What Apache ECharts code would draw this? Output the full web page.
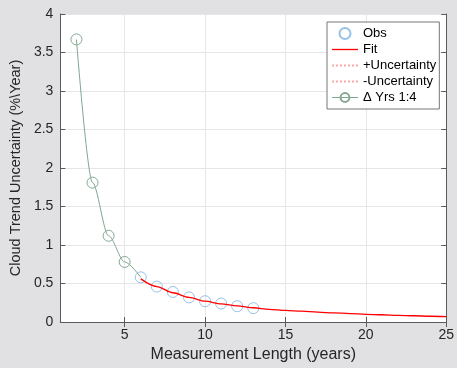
<!DOCTYPE html>
<html>
<head>
<meta charset="utf-8">
<script src="https://cdn.jsdelivr.net/npm/echarts@6/dist/echarts.min.js"></script>
<style>
  html, body { margin: 0; padding: 0; background: #e1e1e3; }
  #chart1 { width: 457px; height: 368px; }
</style>
</head>
<body>
<div id="chart1"></div>
<script>
var dom = document.getElementById("chart1");
var myChart = echarts.init(dom);

// observed uncertainties (blue circles)
var obsX = [6, 7, 8, 9, 10, 11, 12, 13];
var obsY = [0.58, 0.46, 0.39, 0.32, 0.27, 0.24, 0.205, 0.18];

// fitted curve (red)
var fitX = [6, 7, 8, 9, 10, 11, 12, 13, 14, 15, 16, 17, 18, 19, 20, 21, 22, 23, 24, 25];
var fitY = [0.56, 0.46, 0.38, 0.32, 0.27, 0.235, 0.21, 0.185, 0.165, 0.15,
            0.14, 0.128, 0.118, 0.11, 0.10, 0.094, 0.087, 0.081, 0.075, 0.07];

// Delta Yrs 1:4 (green)
var deltaX = [2, 3, 4, 5, 6];
var deltaY = [3.67, 1.81, 1.12, 0.78, 0.58];

var xTicks = [5, 10, 15, 20, 25];
var seriesNames = ['Obs', 'Fit', '+Uncertainty', '-Uncertainty', '\u0394 Yrs 1:4'];
var yTitle = 'Cloud Trend Uncertainty (%\u005CYear)';

function pairs(xs, ys) {
    return xs.map(function (x, i) { return [x, ys[i]]; });
}

var fontFam = "'Liberation Sans', Arial, Helvetica, sans-serif";
var lineCol = '#5a5a5a';
var textCol = '#262626';
var noSymbol = { opacity: 0 };
var clear = 'rgba(255,255,255,0)';
var fitCol = '#ff0000', uncCol = '#ffaaaa', deltaCol = '#7ea890';

option = {
    backgroundColor: '#e1e1e3',
    animation: false,
    textStyle: { fontFamily: fontFam },
    grid: { left: 51, right: 9, top: 14, bottom: 41, backgroundColor: '#fff', show: true, borderWidth: 0 },
    legend: {
        orient: 'vertical',
        left: 327,
        top: 22,
        padding: [5, 3, 5, 4],
        itemWidth: 26,
        itemHeight: 11,
        itemGap: 3,
        backgroundColor: '#fff',
        borderColor: '#777',
        borderWidth: 1,
        borderRadius: 0,
        textStyle: { fontSize: 13, color: '#000', fontFamily: fontFam },
        data: [
            { name: seriesNames[0] },
            { name: seriesNames[1], itemStyle: noSymbol, lineStyle: { color: fitCol, width: 1.3 } },
            { name: seriesNames[2], itemStyle: noSymbol },
            { name: seriesNames[3], itemStyle: noSymbol },
            { name: seriesNames[4], lineStyle: { color: deltaCol, width: 1 } }
        ]
    },
    xAxis: [{
        type: 'value',
        min: 1, max: 25,
        name: 'Measurement Length (years)',
        nameLocation: 'middle',
        nameGap: 25,
        nameTextStyle: { fontSize: 16, color: textCol },
        axisLine: { lineStyle: { color: lineCol } },
        axisTick: { inside: true, length: 5, customValues: xTicks, lineStyle: { color: lineCol } },
        axisLabel: { customValues: xTicks, fontSize: 14, color: textCol, margin: 6 },
        splitLine: { show: true, lineStyle: { color: '#e6e6e6' } }
    }, {
        type: 'value', position: 'top',
        min: 1, max: 25,
        axisLine: { show: true, lineStyle: { color: lineCol } },
        axisTick: { inside: true, length: 5, customValues: xTicks, lineStyle: { color: lineCol } },
        axisLabel: { show: false },
        splitLine: { show: false }
    }],
    yAxis: [{
        type: 'value',
        min: 0, max: 4, interval: 0.5,
        name: yTitle,
        nameLocation: 'middle',
        nameGap: 28,
        nameTextStyle: { fontSize: 14.5, color: textCol },
        axisLine: { show: true, lineStyle: { color: lineCol } },
        axisTick: { show: true, inside: true, length: 5, lineStyle: { color: lineCol } },
        axisLabel: { fontSize: 14, color: textCol, margin: 7 },
        splitLine: { show: true, lineStyle: { color: '#e6e6e6' } }
    }, {
        type: 'value', position: 'right',
        min: 0, max: 4, interval: 0.5,
        axisLine: { show: true, lineStyle: { color: lineCol } },
        axisTick: { show: true, inside: true, length: 5, lineStyle: { color: lineCol } },
        axisLabel: { show: false },
        splitLine: { show: false }
    }],
    series: [{
        name: 'Obs',
        type: 'scatter',
        symbol: 'circle',
        symbolSize: 11,
        itemStyle: { color: clear, borderColor: '#7ab4e2', borderWidth: 1 },
        data: pairs(obsX, obsY),
        z: 2
    }, {
        name: 'Fit',
        type: 'line',
        symbol: 'none',
        smooth: 0.3,
        smoothMonotone: 'x',
        lineStyle: { color: fitCol, width: 1.3 },
        itemStyle: { color: fitCol },
        data: pairs(fitX, fitY),
        z: 4
    }, {
        name: '+Uncertainty',
        type: 'line',
        symbol: 'none',
        lineStyle: { color: uncCol, width: 1, type: 'dotted' },
        itemStyle: { color: uncCol },
        data: []
    }, {
        name: '-Uncertainty',
        type: 'line',
        symbol: 'none',
        lineStyle: { color: uncCol, width: 1, type: 'dotted' },
        itemStyle: { color: uncCol },
        data: []
    }, {
        name: '\u0394 Yrs 1:4',
        type: 'line',
        symbol: 'circle',
        symbolSize: function (v) { return v[0] <= 5 ? 11 : 0; },
        smooth: 0.3,
        smoothMonotone: 'x',
        lineStyle: { color: deltaCol, width: 1 },
        itemStyle: { color: clear, borderColor: '#86a894', borderWidth: 1 },
        data: pairs(deltaX, deltaY),
        z: 3
    }]
};

myChart.setOption(option, true);
</script>
</body>
</html>
